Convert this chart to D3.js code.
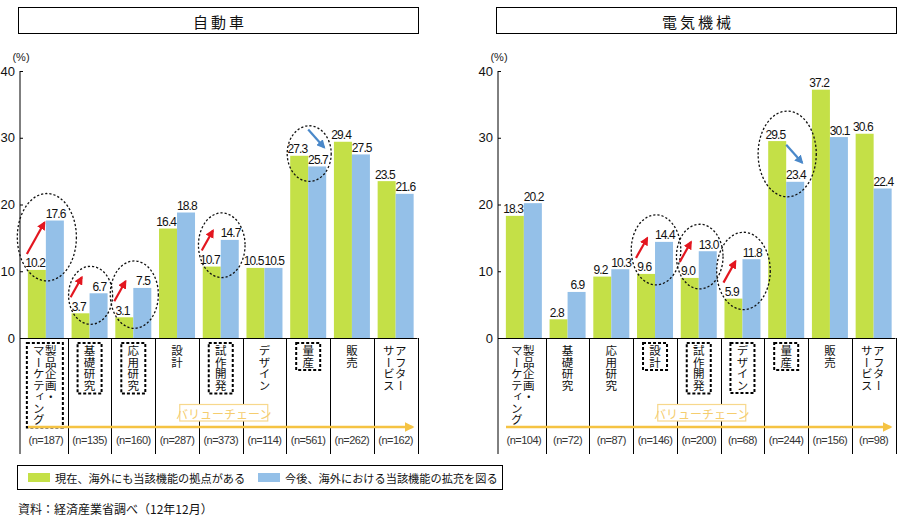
<!DOCTYPE html>
<html><head><meta charset="utf-8">
<script src="https://cdn.jsdelivr.net/npm/d3@7"></script>
<style>
html,body{margin:0;padding:0;background:#fff;}
svg{display:block;}
.jp{font-family:"Noto Sans CJK JP","Noto Sans",sans-serif;}
.num{font-family:"Liberation Sans",Arial,sans-serif;}
</style></head>
<body>
<svg id="chart" width="919" height="528"></svg>
<script>
// ---- data ----
const categories = ["製品企画・\nマーケティング", "基礎研究", "応用研究", "設計", "試作開発", "デザイン", "量産", "販売", "アフター\nサービス"];
const autoNow    = [10.2, 3.7, 3.1, 16.4, 10.7, 10.5, 27.3, 29.4, 23.5];
const autoFuture = [17.6, 6.7, 7.5, 18.8, 14.7, 10.5, 25.7, 27.5, 21.6];
const autoN      = [187, 135, 160, 287, 373, 114, 561, 262, 162];
const autoHighlight = [0, 1, 2, 4, 6];
const elecNow    = [18.3, 2.8, 9.2, 9.6, 9.0, 5.9, 29.5, 37.2, 30.6];
const elecFuture = [20.2, 6.9, 10.3, 14.4, 13.0, 11.8, 23.4, 30.1, 22.4];
const elecN      = [104, 72, 87, 146, 200, 68, 244, 156, 98];
const elecHighlight = [3, 4, 5, 6];
const yTicks = [0, 10, 20, 30, 40];
const seriesNames = ["現在、海外にも当該機能の拠点がある", "今後、海外における当該機能の拡充を図る"];
const panelTitles = ["自動車", "電気機械"];
const valueChainLabel = "バリューチェーン";
const sourceNote = "資料：経済産業省調べ（12年12月）";

// ---- styles ----
const GREEN = "#c4e047", BLUE = "#94c0e8", ORANGE = "#f5c343", RED = "#e3161f", ARROWBLUE = "#4a88c9";

const svg = d3.select("#chart");
svg.append("rect").attr("width", 919).attr("height", 528).attr("fill", "#fff");

const defs = svg.append("defs");
function marker(id, color) {
  defs.append("marker").attr("id", id).attr("viewBox", "0 0 10 10")
    .attr("refX", 8).attr("refY", 5).attr("markerWidth", 4).attr("markerHeight", 4)
    .attr("orient", "auto").attr("markerUnits", "strokeWidth")
    .append("path").attr("d", "M0,0 L10,5 L0,10 Z").attr("fill", color);
}
marker("redHead", RED);
marker("blueHead", ARROWBLUE);
marker("orangeHead", ORANGE);

const yTop = 71, yBase = 338, yBottom = 454;
const y = d3.scaleLinear().domain([0, 40]).range([yBase, yTop]);

function drawPanel(opt) {
  const g = svg.append("g");
  const axisX = opt.axisX, x0 = axisX + 4, x1 = opt.right;
  const x = d3.scaleBand().domain(d3.range(categories.length)).range([x0, x1]).paddingInner(0).paddingOuter(0);
  const bw = 18;
  const off = (x.bandwidth() - 2 * bw) / 2;

  // title box
  g.append("rect").attr("x", opt.titleX0).attr("y", 7.5).attr("width", opt.titleX1 - opt.titleX0).attr("height", 26)
    .attr("fill", "none").attr("stroke", "#000").attr("stroke-width", 1);
  g.append("text").attr("class", "jp").attr("x", (opt.titleX0 + opt.titleX1) / 2 + 1.5).attr("y", 21)
    .attr("text-anchor", "middle").attr("dominant-baseline", "central")
    .attr("font-size", 15).attr("letter-spacing", 3).attr("fill", "#111").text(opt.title);

  // (%)
  g.append("text").attr("class", "num").attr("x", axisX + 1).attr("y", 61).attr("text-anchor", "middle")
    .attr("font-size", 11).attr("fill", "#222").text("(%)");

  // y axis
  const yAxis = d3.axisLeft(y).tickValues(yTicks).tickSize(-3).tickPadding(5).tickFormat(d3.format("d"));
  const ax = g.append("g").attr("transform", `translate(${axisX},0)`).call(yAxis);
  ax.select(".domain").remove();
  ax.selectAll("line").attr("stroke", "#000");
  ax.selectAll("text").attr("class", "num").attr("font-size", 13).attr("fill", "#111");
  g.append("line").attr("x1", axisX).attr("x2", axisX).attr("y1", yTop).attr("y2", yBottom).attr("stroke", "#000");
  // baseline
  g.append("line").attr("x1", axisX).attr("x2", x1).attr("y1", yBase + 0.5).attr("y2", yBase + 0.5).attr("stroke", "#000");
  // dividers
  d3.range(1, categories.length + 1).forEach(i => {
    const xx = Math.round(x(0) + i * x.bandwidth()) + 0.5;
    g.append("line").attr("x1", xx).attr("x2", xx).attr("y1", yBase).attr("y2", yBottom).attr("stroke", "#000");
  });

  // bars
  const now = opt.now, fut = opt.future;
  g.selectAll(".bn").data(now).enter().append("rect")
    .attr("x", (d, i) => x(i) + off).attr("width", bw)
    .attr("y", d => y(d)).attr("height", d => yBase - y(d)).attr("fill", GREEN);
  g.selectAll(".bf").data(fut).enter().append("rect")
    .attr("x", (d, i) => x(i) + off + bw).attr("width", bw)
    .attr("y", d => y(d)).attr("height", d => yBase - y(d)).attr("fill", BLUE);

  // value labels
  const lab = (arr, shift, dx) => g.selectAll(null).data(arr).enter().append("text").attr("class", "num")
    .attr("x", (d, i) => x(i) + off + shift + bw / 2 + dx).attr("y", d => y(d) - 2.5)
    .attr("text-anchor", "middle").attr("font-size", 12).attr("letter-spacing", -0.9)
    .attr("fill", "#111").text(d => d.toFixed(1));
  lab(now, 0, -1.8); lab(fut, bw, 0.8);

  // highlight ellipses & arrows
  opt.highlight.forEach(i => {
    const yg = y(now[i]), yb = y(fut[i]);
    const gl = x(i) + off;
    const cx = x(i) + x.bandwidth() / 2 + 1;
    let top, bot;
    if (fut[i] >= now[i]) { top = Math.min(yg, yb) - 27; bot = Math.max(yg, yb) + 11; }
    else { top = Math.min(yg, yb) - 30; bot = Math.max(yg, yb) + 15; }
    const ry = (bot - top) / 2;
    const rx = 22 + Math.max(0, ry - 30) * 0.55;
    g.append("ellipse").attr("cx", cx).attr("cy", (top + bot) / 2).attr("rx", rx).attr("ry", ry)
      .attr("fill", "none").attr("stroke", "#111").attr("stroke-width", 1.3).attr("stroke-dasharray", "2.2,2");
    if (fut[i] >= now[i]) {
      const sy = yg - 16;
      const ey = Math.min(sy - 20, yb + 2);
      const sx = gl - 1, ex = sx + (sy - ey) * 0.56;
      g.append("line").attr("x1", sx).attr("y1", sy).attr("x2", ex).attr("y2", ey)
        .attr("stroke", RED).attr("stroke-width", 2.2).attr("marker-end", "url(#redHead)");
    } else {
      const ex = gl + bw + 16, ey = yb - 19;
      const sx = gl + bw, sy = ey - 18;
      g.append("line").attr("x1", sx).attr("y1", sy).attr("x2", ex).attr("y2", ey)
        .attr("stroke", ARROWBLUE).attr("stroke-width", 2.2).attr("marker-end", "url(#blueHead)");
    }
  });

  // category labels (vertical)
  const fs = 11.5, step = 12, ty = 345;
  categories.forEach((c, i) => {
    const cols = c.split("\n");
    const cxm = x(i) + x.bandwidth() / 2 - (cols.length > 1 ? 1 : 0);
    const lg = g.append("g");
    cols.forEach((t, k) => {
      const colX = cxm + ((cols.length - 1) / 2 - k) * step;
      lg.append("text").attr("class", "jp").attr("x", colX).attr("y", ty)
        .attr("font-size", fs).attr("fill", "#111")
        .style("writing-mode", "vertical-rl").text(t);
    });
    if (opt.highlight.includes(i)) {
      const bb = lg.node().getBBox();
      g.insert("rect", ":first-child").attr("x", bb.x - 4).attr("y", ty - 2).attr("width", bb.width + 8)
        .attr("height", bb.y + bb.height - ty + 4)
        .attr("fill", "#fff").attr("stroke", "#000").attr("stroke-width", 2).attr("stroke-dasharray", "3,2");
    }
  });

  // value chain arrow
  g.append("line").attr("x1", x0 + 4).attr("x2", x1 - 5).attr("y1", 427).attr("y2", 427)
    .attr("stroke", ORANGE).attr("stroke-width", 2.5).attr("marker-end", "url(#orangeHead)");
  const vcx = (axisX + x1) / 2 + 5;
  g.append("rect").attr("x", vcx - 44).attr("y", 404.5).attr("width", 88).attr("height", 16.5)
    .attr("fill", "#fff").attr("stroke", "#f7d88c").attr("stroke-width", 1.2);
  g.append("text").attr("class", "jp").attr("x", vcx).attr("y", 413).attr("text-anchor", "middle")
    .attr("dominant-baseline", "central").attr("font-size", 12).attr("fill", "#f5cd6e").text(valueChainLabel);

  // n labels
  g.selectAll(null).data(opt.n).enter().append("text").attr("class", "num")
    .attr("x", (d, i) => x(i) + x.bandwidth() / 2).attr("y", 444)
    .attr("text-anchor", "middle").attr("font-size", 11).attr("letter-spacing", -0.5).attr("fill", "#333")
    .text(d => `(n=${d})`);
}

drawPanel({ title: panelTitles[0], axisX: 20, right: 417.5, titleX0: 18.5, titleX1: 418.5,
  now: autoNow, future: autoFuture, n: autoN, highlight: autoHighlight });
drawPanel({ title: panelTitles[1], axisX: 498, right: 895.5, titleX0: 496.5, titleX1: 896.5,
  now: elecNow, future: elecFuture, n: elecN, highlight: elecHighlight });

// legend
const lg = svg.append("g");
lg.append("rect").attr("x", 17.5).attr("y", 465.5).attr("width", 485).attr("height", 24)
  .attr("fill", "none").attr("stroke", "#000").attr("stroke-width", 1);
const legendItems = [{ x: 28, c: GREEN, t: seriesNames[0] }, { x: 258, c: BLUE, t: seriesNames[1] }];
legendItems.forEach(it => {
  lg.append("rect").attr("x", it.x).attr("y", 473).attr("width", 22).attr("height", 9).attr("fill", it.c);
  lg.append("text").attr("class", "jp").attr("x", it.x + 27).attr("y", 478).attr("dominant-baseline", "central")
    .attr("font-size", 11.2).attr("fill", "#111").text(it.t);
});
svg.append("text").attr("class", "jp").attr("x", 18).attr("y", 508).attr("dominant-baseline", "central")
  .attr("font-size", 12).attr("fill", "#111").text(sourceNote);
</script>
</body></html>
